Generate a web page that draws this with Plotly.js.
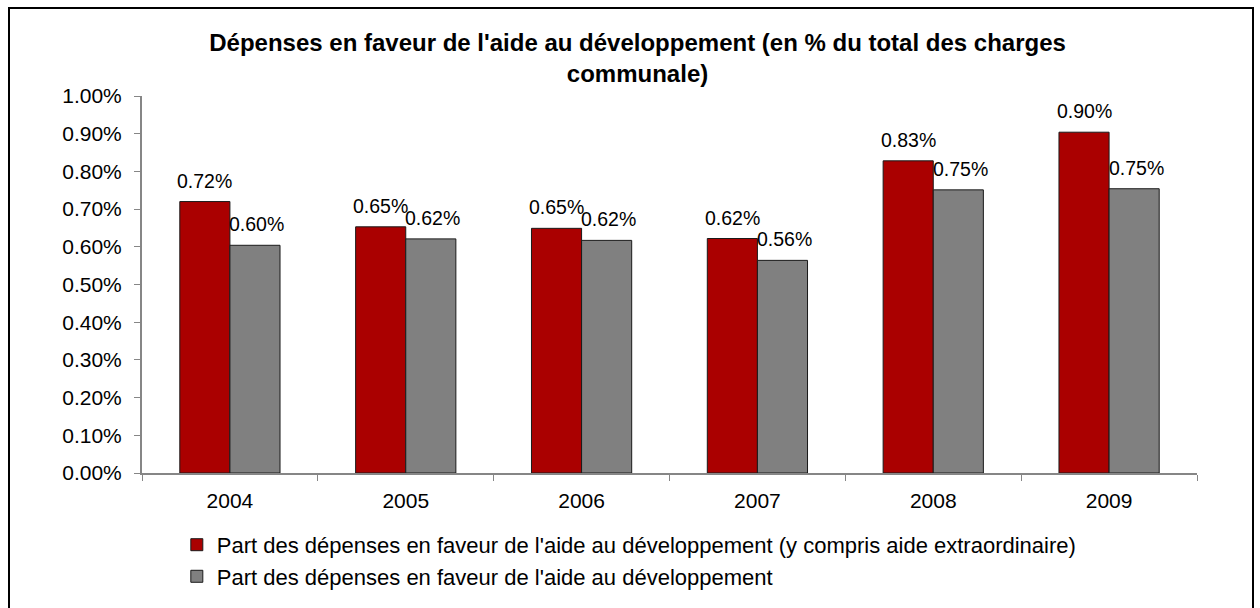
<!DOCTYPE html>
<html>
<head>
<meta charset="utf-8">
<script src="https://cdn.plot.ly/plotly-3.0.1.min.js"></script>
<style>html,body{margin:0;padding:0;background:#fff;}#chart{width:1260px;height:608px;}</style>
</head>
<body>
<div id="chart"></div>
<script>
const years = ['2004', '2005', '2006', '2007', '2008', '2009'];
const totalAide = [0.720, 0.653, 0.649, 0.622, 0.828, 0.904];
const aide = [0.604, 0.621, 0.617, 0.564, 0.751, 0.754];
const seriesNames = [
  "Part des dépenses en faveur de l'aide au développement (y compris aide extraordinaire)",
  "Part des dépenses en faveur de l'aide au développement"
];
const yTicks = [0, 0.1, 0.2, 0.3, 0.4, 0.5, 0.6, 0.7, 0.8, 0.9, 1.0];

const FONT = 'Liberation Sans, Arial, sans-serif';
const red = '#AA0000', grey = '#808080';

const traces = [
  {type: 'bar', x: years, y: totalAide, name: seriesNames[0], legendgroup: 'a',
   marker: {color: red, line: {color: '#1a1a1a', width: 1}}, hoverinfo: 'y'},
  {type: 'bar', x: years, y: aide, name: seriesNames[1], legendgroup: 'b',
   marker: {color: grey, line: {color: '#1a1a1a', width: 1}}, hoverinfo: 'y'}
];

const annotations = [];
[[totalAide, -25], [aide, 27]].forEach(([vals, dx]) => {
  vals.forEach((v, i) => {
    annotations.push({x: i, y: v, xref: 'x', yref: 'y', text: v.toFixed(2) + '%',
      showarrow: false, xshift: dx, yshift: 8, yanchor: 'bottom', xanchor: 'center',
      font: {family: FONT, size: 19.5, color: '#000'}});
  });
});

const layout = {
  width: 1260, height: 608,
  margin: {l: 142, r: 63, t: 96, b: 135, autoexpand: false},
  paper_bgcolor: '#fff', plot_bgcolor: '#fff',
  font: {family: FONT, size: 21, color: '#000'},
  title: {text: "<b>Dépenses en faveur de l'aide au développement (en % du total des charges<br>communale)</b>",
    x: 0.506, xanchor: 'center', xref: 'container', y: 1 - 51/608, yanchor: 'top', yref: 'container',
    font: {family: FONT, size: 24, color: '#000'}},
  barmode: 'group', bargap: 0.43, bargroupgap: 0,
  showlegend: true,
  legend: {orientation: 'v', x: 0.033, xanchor: 'left', y: -0.135, yanchor: 'top',
    font: {family: FONT, size: 22, color: '#000'}, tracegroupgap: 0, bgcolor: 'rgba(0,0,0,0)'},
  xaxis: {type: 'category', range: [-0.5, years.length - 0.5], showline: true, linecolor: '#868686', linewidth: 2,
    ticks: 'outside', tickson: 'boundaries', ticklen: 6, tickcolor: '#868686', tickwidth: 1,
    showgrid: false, zeroline: false, ticklabelstandoff: 8, fixedrange: true},
  yaxis: {range: [0, 1.0], tickvals: yTicks, ticktext: yTicks.map(v => v.toFixed(2) + '%'),
    showline: true, linecolor: '#868686', linewidth: 2, ticks: 'outside', ticklen: 6,
    tickcolor: '#868686', tickwidth: 1, showgrid: false, zeroline: false,
    ticklabelstandoff: 8, fixedrange: true},
  annotations: annotations,
  shapes: [{type: 'rect', xref: 'paper', yref: 'paper',
    x0: (9 - 142) / 1055, x1: (1253 - 142) / 1055, y0: (473 - 620) / 377, y1: (473 - 8) / 377,
    line: {color: '#000', width: 2}, fillcolor: 'rgba(0,0,0,0)', layer: 'below'}]
};

Plotly.newPlot('chart', traces, layout, {displayModeBar: false, staticPlot: true});
</script>
</body>
</html>
